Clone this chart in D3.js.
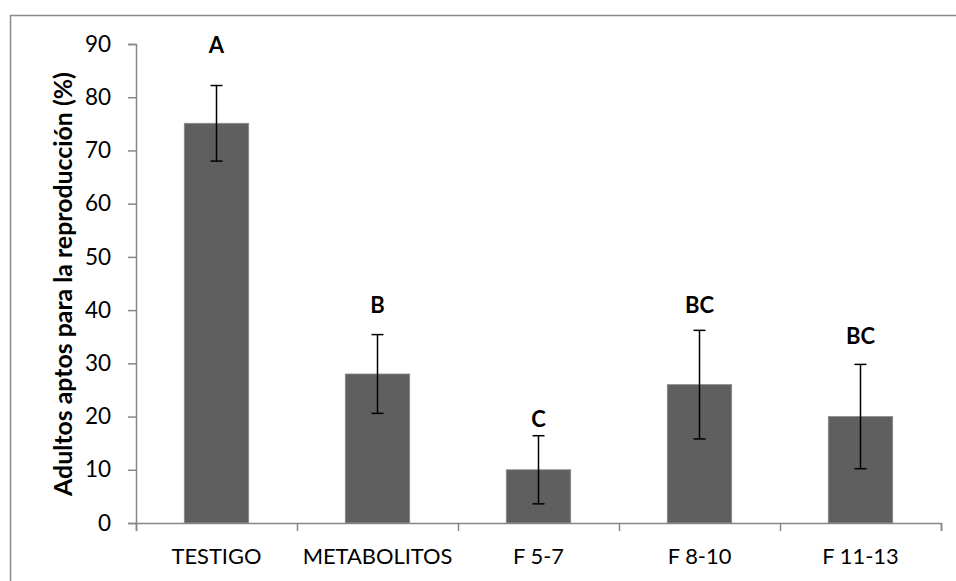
<!DOCTYPE html>
<html>
<head>
<meta charset="utf-8">
<script src="https://cdn.jsdelivr.net/npm/d3@7"></script>
<style>
  body { margin: 0; background: #fff; }
  text { font-family: Lato, "Open Sans", sans-serif; fill: #000; }
</style>
</head>
<body>
<div class="board"></div>
<script>
// data
var categories = ["TESTIGO", "METABOLITOS", "F 5-7", "F 8-10", "F 11-13"];
var means = [75.1, 28.0, 10.0, 26.0, 20.0];
var errors = [7.1, 7.4, 6.4, 10.2, 9.8];
var letters = ["A", "B", "C", "BC", "BC"];
var letterAt = [88.3, 39.5, 18.1, 39.5, 33.6];
var yTicks = [0, 10, 20, 30, 40, 50, 60, 70, 80, 90];

var svg = d3.select(".board").append("svg")
  .attr("width", 956)
  .attr("height", 581);

// chart frame (runs off the right and bottom edge)
svg.append("rect")
  .attr("x", 10.5).attr("y", 15.5)
  .attr("width", 960).attr("height", 600)
  .attr("fill", "none")
  .attr("stroke", "#8a8a8a")
  .attr("stroke-width", 1.5);

var x = d3.scaleBand().domain(categories).range([136, 941]).paddingInner(0.6).paddingOuter(0.3);
var y = d3.scaleLinear().domain([0, 90]).range([523, 44]);

// bars
svg.selectAll(".bar").data(categories).enter().append("rect")
  .attr("x", d => x(d))
  .attr("y", (d, i) => y(means[i]))
  .attr("width", x.bandwidth())
  .attr("height", (d, i) => y(0) - y(means[i]))
  .attr("fill", "#5f5f5f")
  .attr("stroke", "#8a8a8a")
  .attr("stroke-width", 0.8);

// y axis
var yAxis = svg.append("g")
  .attr("transform", "translate(136,0)")
  .call(d3.axisLeft(y).tickValues(yTicks).tickSize(8).tickPadding(17));
yAxis.select(".domain").attr("stroke", "#868686").attr("stroke-width", 1.5);
yAxis.selectAll(".tick line").attr("stroke", "#868686").attr("stroke-width", 1.5);
yAxis.selectAll("text").style("font-size", "22.5px").attr("fill", "#000");

// x axis, ticks between categories
var xEdge = d3.scaleLinear().domain([0, categories.length]).range([136, 941]);
var xAxis = svg.append("g")
  .attr("transform", "translate(0,523)")
  .call(d3.axisBottom(xEdge).tickValues(d3.range(0, categories.length + 1)).tickSize(8).tickFormat(""));
xAxis.select(".domain").attr("stroke", "#868686").attr("stroke-width", 1.5);
xAxis.selectAll(".tick line").attr("stroke", "#868686").attr("stroke-width", 1.5);

var cats = svg.selectAll(".cat").data(categories).enter().append("text")
  .attr("x", d => x(d) + x.bandwidth() / 2)
  .attr("y", 564)
  .attr("text-anchor", "middle")
  .style("font-size", "20px")
  .text(d => d);
// size so "TESTIGO" is about as wide as in the original
var catW = cats.node().getComputedTextLength();
cats.style("font-size", (20 * 90 / catW) + "px");

// error bars
var err = svg.selectAll(".err").data(categories).enter().append("g");
err.append("line")
  .attr("x1", d => x(d) + x.bandwidth() / 2)
  .attr("x2", d => x(d) + x.bandwidth() / 2)
  .attr("y1", (d, i) => y(means[i] + errors[i]))
  .attr("y2", (d, i) => y(means[i] - errors[i]))
  .attr("stroke", "#000").attr("stroke-width", 1.5);
err.append("line")
  .attr("x1", d => x(d) + x.bandwidth() / 2 - 6)
  .attr("x2", d => x(d) + x.bandwidth() / 2 + 6)
  .attr("y1", (d, i) => y(means[i] + errors[i]))
  .attr("y2", (d, i) => y(means[i] + errors[i]))
  .attr("stroke", "#000").attr("stroke-width", 1.5);
err.append("line")
  .attr("x1", d => x(d) + x.bandwidth() / 2 - 6)
  .attr("x2", d => x(d) + x.bandwidth() / 2 + 6)
  .attr("y1", (d, i) => y(means[i] - errors[i]))
  .attr("y2", (d, i) => y(means[i] - errors[i]))
  .attr("stroke", "#000").attr("stroke-width", 1.5);

// significance letters
svg.selectAll(".letter").data(categories).enter().append("text")
  .attr("x", d => x(d) + x.bandwidth() / 2)
  .attr("y", (d, i) => y(letterAt[i]))
  .attr("text-anchor", "middle")
  .style("font-size", "22px")
  .style("font-weight", "bold")
  .text((d, i) => letters[i]);

// y title
var title = svg.append("text")
  .attr("transform", "translate(72,284) rotate(-90)")
  .attr("text-anchor", "middle")
  .style("font-size", "20px")
  .style("font-weight", "bold")
  .text("Adultos aptos para la reproducción (%)");
var titleW = title.node().getComputedTextLength();
title.style("font-size", (20 * 424 / titleW) + "px");
</script>
</body>
</html>
